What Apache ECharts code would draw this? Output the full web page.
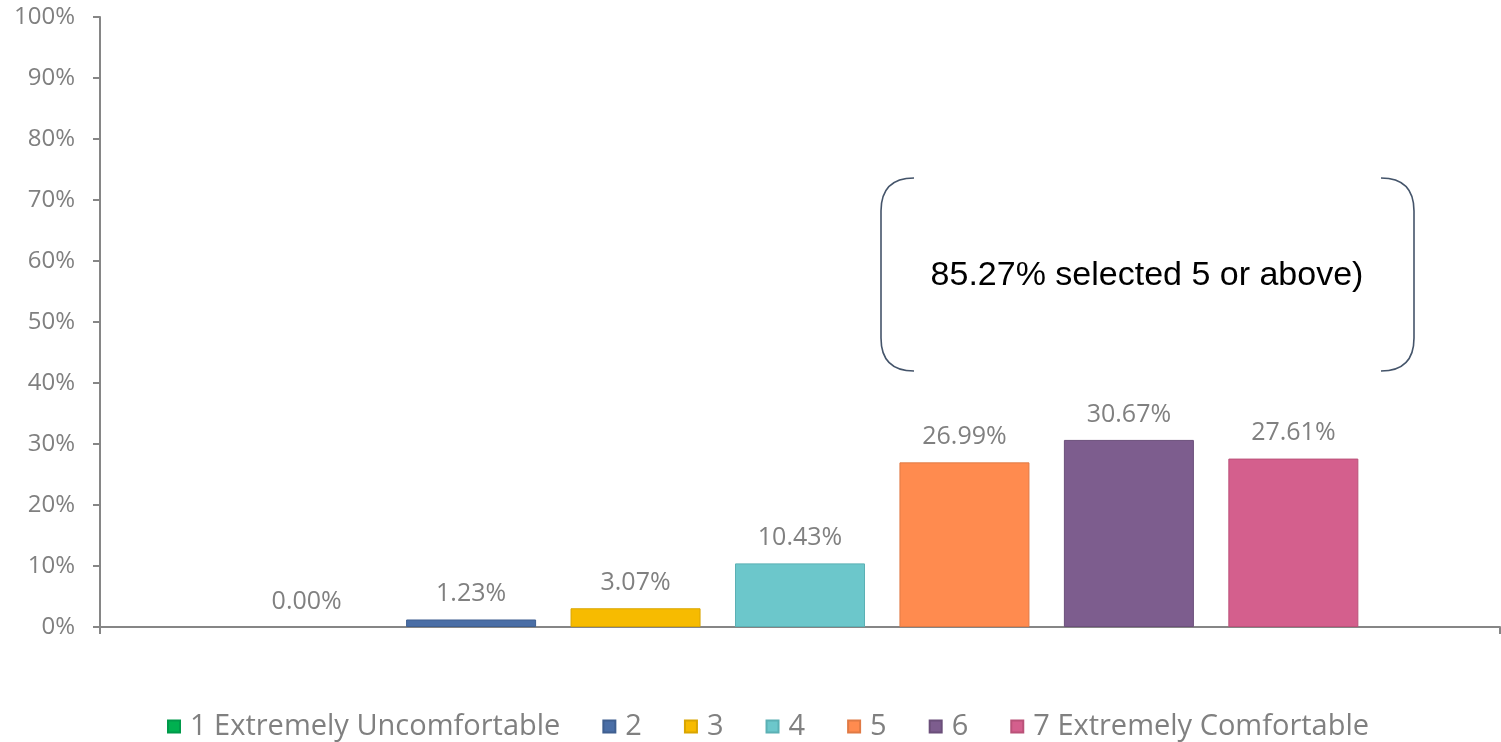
<!DOCTYPE html>
<html>
<head>
<meta charset="utf-8">
<script src="https://cdn.jsdelivr.net/npm/echarts@6/dist/echarts.min.js"></script>
<style>
  html, body { margin: 0; padding: 0; background: #ffffff; }
  #chart { width: 1501px; height: 742px; }
</style>
</head>
<body>
<div id="chart"></div>
<script>
// Comfort rating shares (percent of respondents)
const ratingNames = ['1 Extremely Uncomfortable', '2', '3', '4', '5', '6', '7 Extremely Comfortable'];
const ratingValues = [0.00, 1.23, 3.07, 10.43, 26.99, 30.67, 27.61];
const ratingColors = ['#00b050', '#4a6ea6', '#f7bb00', '#6cc7cb', '#ff8b4f', '#7d5d8e', '#d45f8d'];
const ratingBorders = ['#00994a', '#3f5f90', '#d9a500', '#5bb0b4', '#e07a45', '#6b4f7a', '#ba5279'];
const yTicks = { min: 0, max: 100, interval: 10 };
const summaryText = '85.27% selected 5 or above)';

const chart = echarts.init(document.getElementById('chart'), null, { renderer: 'canvas' });

const labelFont = '"Open Sans", "DejaVu Sans", sans-serif';
const greyText = '#808080';

const series = ratingNames.map((name, i) => ({
  name: name,
  type: 'bar',
  // an empty bar gets no outline so nothing shows on the baseline
  data: [{
    value: ratingValues[i],
    itemStyle: { borderWidth: ratingValues[i] === 0 ? 0 : 1 }
  }],
  barWidth: 130,
  barGap: '26.5%',
  itemStyle: {
    color: ratingColors[i],
    borderColor: ratingBorders[i],
    borderWidth: 1
  },
  label: {
    show: true,
    position: 'top',
    distance: 13,
    formatter: p => p.value.toFixed(2) + '%',
    color: greyText,
    fontFamily: labelFont,
    fontSize: 25
  }
}));

// Round bracket around the summary note: curved top, straight side, curved bottom
const bracketStyle = { stroke: '#44546a', lineWidth: 1.6, fill: null };
function bracket(x, top, bottom, dir) {
  const r = 33;
  const xo = x + dir * r;
  return [
    { type: 'bezierCurve', shape: { x1: xo, y1: top, cpx1: x, cpy1: top, x2: x, y2: top + r }, style: bracketStyle },
    { type: 'line', shape: { x1: x, y1: top + r, x2: x, y2: bottom - r }, style: bracketStyle },
    { type: 'bezierCurve', shape: { x1: x, y1: bottom - r, cpx1: x, cpy1: bottom, x2: xo, y2: bottom }, style: bracketStyle }
  ];
}

const option = {
  backgroundColor: '#ffffff',
  animation: false,
  grid: { left: 100, right: 1, top: 17, bottom: 115, containLabel: false },
  xAxis: {
    type: 'category',
    data: [''],
    axisLine: { lineStyle: { color: '#868686', width: 2 } },
    axisTick: { show: true, length: 7, lineStyle: { color: '#868686', width: 2 } },
    axisLabel: { show: false },
    splitLine: { show: false }
  },
  yAxis: {
    type: 'value',
    min: yTicks.min,
    max: yTicks.max,
    interval: yTicks.interval,
    axisLine: { show: true, lineStyle: { color: '#868686', width: 2 } },
    axisTick: { show: true, length: 7, lineStyle: { color: '#868686', width: 2 } },
    axisLabel: {
      formatter: '{value}%',
      color: greyText,
      fontFamily: labelFont,
      fontSize: 24,
      margin: 25
    },
    splitLine: { show: false }
  },
  legend: {
    top: 707,
    left: 162,
    icon: 'rect',
    itemWidth: 12,
    itemHeight: 12,
    itemGap: 42,
    textStyle: { color: greyText, fontFamily: labelFont, fontSize: 29, padding: [0, 0, 0, 5] },
    data: ratingNames
  },
  graphic: [
    ...bracket(881, 178, 371, 1),
    ...bracket(1414, 178, 371, -1),
    {
      type: 'text',
      x: 1147,
      y: 276,
      style: {
        text: summaryText,
        fill: '#000000',
        font: '34px "Liberation Sans", Arial, sans-serif',
        textAlign: 'center',
        textVerticalAlign: 'middle'
      }
    }
  ],
  series: series
};

chart.setOption(option);
</script>
</body>
</html>
